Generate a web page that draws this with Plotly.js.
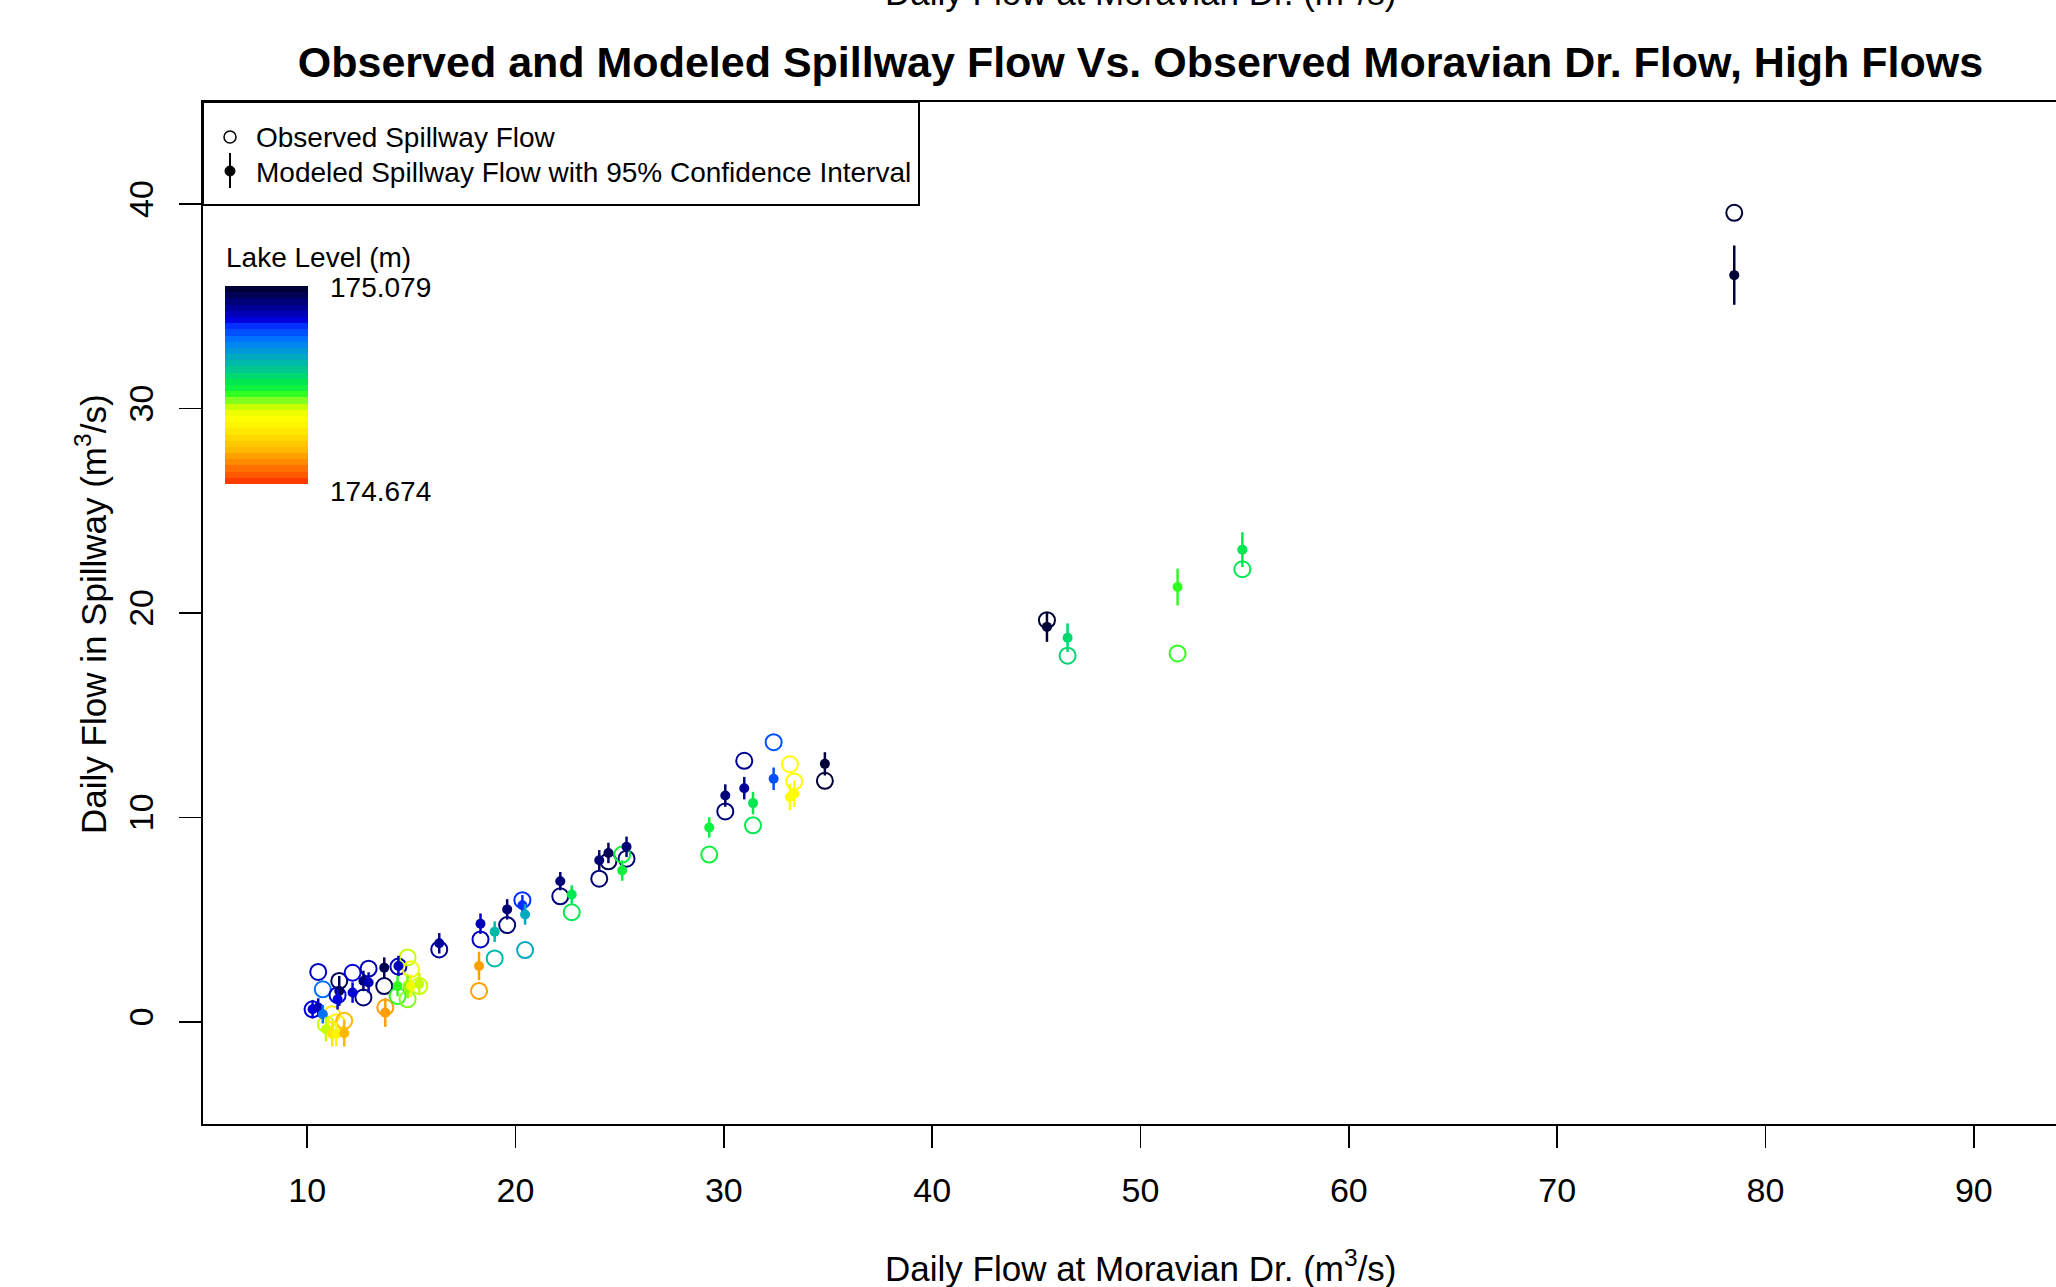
<!DOCTYPE html>
<html>
<head>
<meta charset="utf-8">
<script src="https://cdn.plot.ly/plotly-3.0.1.min.js"></script>
<style>
html, body { margin: 0; padding: 0; overflow: hidden; background: #fff; }
#chart { width: 2100px; height: 1287px; }
</style>
</head>
<body>
<div id="chart"></div>
<script>
// ---- Data ----
const moravianFlow = [10.26, 10.53, 10.75, 10.90, 11.20, 11.40, 11.54, 11.46, 11.78, 12.18,
  12.70, 12.95, 13.70, 13.75, 14.38, 14.34, 14.82, 14.82, 14.98, 15.38,
  16.34, 18.32, 18.25, 19.00, 19.60, 20.33, 20.46, 22.15, 22.70, 24.02,
  24.46, 25.33, 25.12, 29.30, 30.07, 30.98, 31.40, 32.39, 33.17, 33.38,
  34.85, 45.51, 46.50, 51.78, 54.89, 78.50];
const observedSpillway = [0.61, 2.44, 1.59, -0.12, 0.37, -0.02, 2.00, 1.30, 0.05, 2.40,
  1.19, 2.60, 1.75, 0.70, 2.70, 1.26, 3.15, 1.10, 2.57, 1.75,
  3.54, 4.03, 1.51, 3.10, 4.73, 5.95, 3.51, 6.14, 5.36, 7.00,
  7.85, 7.98, 8.18, 8.18, 10.29, 12.77, 9.61, 13.68, 12.60, 11.76,
  11.79, 19.65, 17.91, 18.02, 22.14, 39.58];
const modeledSpillway = [0.61, 0.70, 0.37, -0.36, -0.60, -0.60, 1.51, 1.10, -0.56, 1.43,
  2.00, 1.92, 2.65, 0.45, 2.73, 1.75, 1.80, 1.70, 1.75, 1.85,
  3.84, 4.80, 2.73, 4.41, 5.50, 5.70, 5.25, 6.88, 6.23, 7.90,
  8.26, 8.56, 7.40, 9.51, 11.07, 11.43, 10.70, 11.89, 11.00, 11.16,
  12.62, 19.32, 18.79, 21.27, 23.10, 36.53];
const modeledLower = [0.16, 0.25, -0.08, -0.96, -1.20, -1.20, 0.78, 0.60, -1.21, 0.93,
  1.50, 1.42, 2.15, -0.25, 2.23, 1.25, 1.25, 1.15, 1.20, 1.30,
  3.34, 4.30, 2.03, 3.91, 5.00, 5.20, 4.75, 6.43, 5.78, 7.40,
  7.76, 8.06, 6.90, 9.01, 10.52, 10.88, 10.15, 11.34, 10.35, 10.51,
  12.05, 18.59, 18.09, 20.37, 22.25, 35.08];
const modeledUpper = [1.06, 1.15, 0.82, 0.24, 0.00, 0.00, 2.24, 1.60, 0.09, 1.93,
  2.50, 2.42, 3.15, 1.15, 3.23, 2.25, 2.35, 2.25, 2.30, 2.40,
  4.34, 5.30, 3.43, 4.91, 6.00, 6.20, 5.75, 7.33, 6.68, 8.40,
  8.76, 9.06, 7.90, 10.01, 11.62, 11.98, 11.25, 12.44, 11.65, 11.81,
  13.19, 20.05, 19.49, 22.17, 23.95, 37.98];
const lakeLevel = [175.010, 175.022, 174.972, 174.832, 174.782, 174.794, 175.060, 175.010, 174.744, 175.010,
  175.048, 175.022, 175.060, 174.731, 175.022, 174.858, 174.832, 174.845, 174.820, 174.832,
  175.035, 175.022, 174.731, 174.921, 175.048, 174.997, 174.934, 175.048, 174.883, 175.048,
  175.060, 175.048, 174.870, 174.870, 175.048, 175.035, 174.883, 174.984, 174.807, 174.807,
  175.073, 175.073, 174.896, 174.858, 174.883, 175.073];
const lakeMin = 174.674, lakeMax = 175.079;
// palette from lowest (red-orange) to highest (dark navy)
const palette = ['#FF3A00', '#FF5800', '#FF7000', '#FF8C00', '#FFA000', '#FFB800', '#FFC800', '#FFD800',
  '#FFE800', '#FFF500', '#FFFF00', '#F0FF00', '#C8FF00', '#80FF20', '#30FF20', '#10F040',
  '#00E850', '#00D870', '#00C890', '#00B8A8', '#00A8C0', '#0098D8', '#0088F0', '#0070FF',
  '#0050FF', '#0030FF', '#0000DD', '#0000BB', '#000099', '#000077', '#000055', '#000038'];
const xTicks = [10, 20, 30, 40, 50, 60, 70, 80, 90];
const yTicks = [0, 10, 20, 30, 40];

// ---- helpers ----
const N = palette.length;
const colorscale = [];
palette.forEach((c, i) => { colorscale.push([i / N, c]); colorscale.push([(i + 1) / N, c]); });
function colorFor(v) {
  let idx = Math.floor((v - lakeMin) / (lakeMax - lakeMin) * N);
  idx = Math.max(0, Math.min(N - 1, idx));
  return palette[idx];
}
const FONT = 'Liberation Sans, Arial, Helvetica, sans-serif';
const L = 203, T = 102, PW = 1875, PH = 1022;
const px = p => (p - L) / PW;          // page x pixel -> paper x
const py = p => 1 - (p - T) / PH;      // page y pixel -> paper y

const traces = [];
traces.push({
  type: 'scatter', mode: 'markers', x: moravianFlow, y: observedSpillway,
  hoverinfo: 'skip', showlegend: false,
  marker: {
    symbol: 'circle-open', size: 16, line: { width: 2 },
    color: lakeLevel, colorscale: colorscale, cmin: lakeMin, cmax: lakeMax,
    showscale: true,
    colorbar: {
      x: px(225), xanchor: 'left', y: py(385), yanchor: 'middle',
      thickness: 83, thicknessmode: 'pixels', len: 198, lenmode: 'pixels',
      xpad: 0, ypad: 0, outlinewidth: 0, borderwidth: 0,
      showticklabels: false, ticks: ''
    }
  }
});
for (let i = 0; i < moravianFlow.length; i++) {
  const c = colorFor(lakeLevel[i]);
  traces.push({
    type: 'scatter', mode: 'markers', x: [moravianFlow[i]], y: [modeledSpillway[i]],
    hoverinfo: 'skip', showlegend: false,
    marker: { symbol: 'circle', size: 10, color: c, line: { width: 0 } },
    error_y: {
      type: 'data', symmetric: false,
      array: [modeledUpper[i] - modeledSpillway[i]],
      arrayminus: [modeledSpillway[i] - modeledLower[i]],
      color: c, thickness: 2.5, width: 0
    }
  });
}

const axisCommon = {
  showgrid: false, zeroline: false, showline: true, mirror: true,
  linecolor: '#000', linewidth: 2, ticks: 'outside', ticklen: 22, tickwidth: 1.5,
  tickcolor: '#000', tickfont: { family: FONT, size: 34, color: '#000' }
};

const legendFont = { family: FONT, size: 28, color: '#000' };
const layout = {
  width: 2100, height: 1287,
  margin: { l: L, r: 2100 - L - PW, t: T, b: 1287 - T - PH, pad: 0 },
  paper_bgcolor: '#fff', plot_bgcolor: '#fff',
  showlegend: false, hovermode: false,
  font: { family: FONT, color: '#000' },
  title: {
    text: '<b>Observed and Modeled Spillway Flow Vs. Observed Moravian Dr. Flow, High Flows</b>',
    font: { family: FONT, size: 43, color: '#000' },
    x: 0.5, xref: 'paper', xanchor: 'center', y: 1 - 62 / 1287, yref: 'container', yanchor: 'middle'
  },
  xaxis: Object.assign({}, axisCommon, {
    range: [5, 95], tickmode: 'array', tickvals: xTicks, ticktext: xTicks.map(String),
    ticklabelstandoff: 13
  }),
  yaxis: Object.assign({}, axisCommon, {
    range: [-5, 45], tickmode: 'array', tickvals: yTicks, ticktext: yTicks.map(String),
    tickangle: -90, ticklabelstandoff: 12
  }),
  shapes: [
    { type: 'rect', xref: 'paper', yref: 'paper', x0: 0, x1: px(919), y0: py(205), y1: 1,
      line: { color: '#000', width: 2 }, fillcolor: '#fff', layer: 'below' },
    { type: 'circle', xref: 'paper', yref: 'paper', x0: px(224), x1: px(236), y0: py(143), y1: py(131),
      line: { color: '#000', width: 1.5 } },
    { type: 'line', xref: 'paper', yref: 'paper', x0: px(230), x1: px(230), y0: py(153), y1: py(188),
      line: { color: '#000', width: 2 } },
    { type: 'circle', xref: 'paper', yref: 'paper', x0: px(225), x1: px(235), y0: py(176), y1: py(166),
      line: { color: '#000', width: 1 }, fillcolor: '#000' }
  ],
  annotations: [
    { text: 'Observed Spillway Flow', xref: 'paper', yref: 'paper', x: px(254), y: py(137),
      xanchor: 'left', yanchor: 'middle', showarrow: false, font: legendFont },
    { text: 'Modeled Spillway Flow with 95% Confidence Interval', xref: 'paper', yref: 'paper', x: px(254), y: py(172),
      xanchor: 'left', yanchor: 'middle', showarrow: false, font: legendFont },
    { text: 'Lake Level (m)', xref: 'paper', yref: 'paper', x: px(224), y: py(257),
      xanchor: 'left', yanchor: 'middle', showarrow: false, font: legendFont },
    { text: lakeMax.toFixed(3), xref: 'paper', yref: 'paper', x: px(328), y: py(287),
      xanchor: 'left', yanchor: 'middle', showarrow: false, font: legendFont },
    { text: lakeMin.toFixed(3), xref: 'paper', yref: 'paper', x: px(328), y: py(491),
      xanchor: 'left', yanchor: 'middle', showarrow: false, font: legendFont },
    { text: 'Daily Flow at Moravian Dr. (m<sup>3</sup>/s)', xref: 'paper', yref: 'paper', x: 0.5, y: py(1266),
      xanchor: 'center', yanchor: 'middle', showarrow: false, font: { family: FONT, size: 35, color: '#000' } },
    { text: 'Daily Flow in Spillway (m<sup>3</sup>/s)', xref: 'paper', yref: 'paper', x: px(91), y: py(614),
      xanchor: 'center', yanchor: 'middle', textangle: -90, showarrow: false, font: { family: FONT, size: 35, color: '#000' } },
    { text: 'Daily Flow at Moravian Dr. (m<sup>3</sup>/s)', xref: 'paper', yref: 'paper', x: 0.5, y: py(-10),
      xanchor: 'center', yanchor: 'middle', showarrow: false, font: { family: FONT, size: 35, color: '#000' } }
  ]
};

Plotly.newPlot('chart', traces, layout, { staticPlot: true, displayModeBar: false });
</script>
</body>
</html>
